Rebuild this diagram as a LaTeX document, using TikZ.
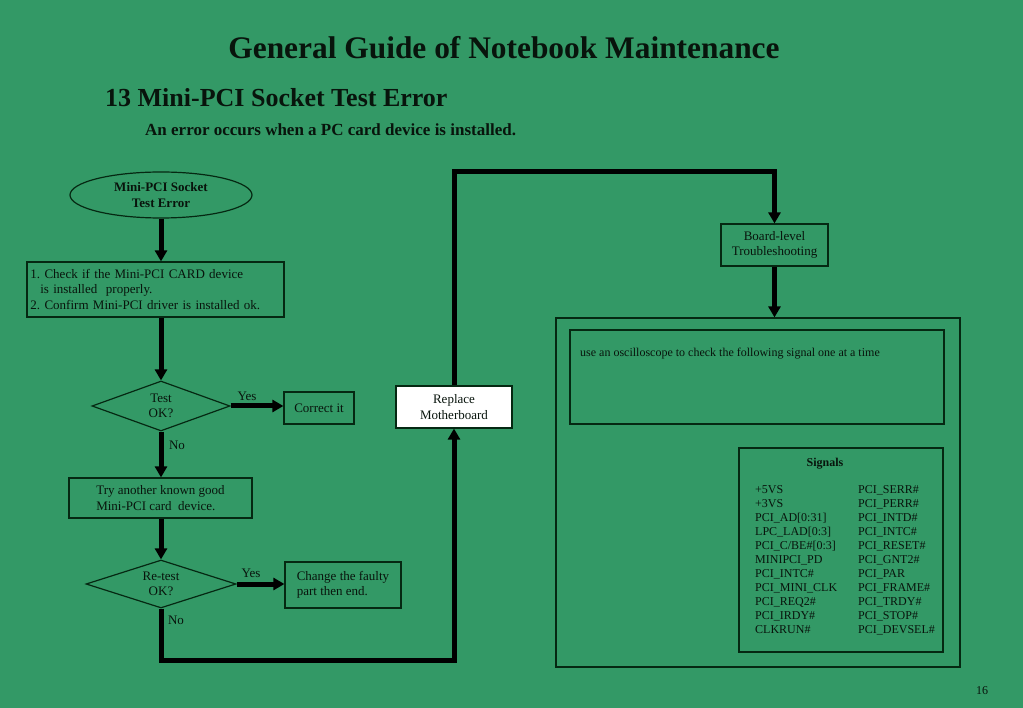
\documentclass[tikz,border=0pt]{standalone}
\usepackage{fontspec}
\setmainfont{Liberation Serif}
\usetikzlibrary{arrows.meta,shapes.geometric}
\definecolor{bg}{RGB}{51,153,102}
\definecolor{ink}{RGB}{8,20,12}
\definecolor{edge}{RGB}{5,40,18}
\frenchspacing
\begin{document}
\begin{tikzpicture}[x=1pt,y=-1pt,
  every node/.style={text=ink},
  box/.style={draw=edge,line width=1.2pt,rectangle,inner sep=0pt,font=\fontsize{13}{15.6}\selectfont},
  dia/.style={draw=edge,line width=1.2pt,diamond,inner sep=0pt,aspect=2.8,align=center,font=\fontsize{13}{15.6}\selectfont},
  arr/.style={line width=5pt,draw=black,-{Triangle[length=11pt,width=12pt]}},
  lbl/.style={font=\fontsize{13}{15.6}\selectfont,inner sep=0pt},
  sig/.style={font=\fontsize{12}{14}\selectfont,align=left,inner sep=0pt,anchor=north west}]
\fill[bg] (0,0) rectangle (1023,708);
\useasboundingbox (0,0) rectangle (1023,708);
% titles
\node[font=\fontsize{31.4}{36}\selectfont\bfseries] (title) at (504,48) {General Guide of Notebook Maintenance};
\node[font=\fontsize{26}{30}\selectfont\bfseries,anchor=west,inner sep=0pt] (sub) at (105,98) {13 Mini-PCI Socket Test Error};
\node[font=\fontsize{17}{20}\selectfont\bfseries,anchor=west,inner sep=0pt] (desc) at (145,130) {An error occurs when a PC card device is installed.};
% left flow
\node[draw=edge,line width=1.2pt,ellipse,minimum width=182pt,minimum height=46pt,inner sep=0pt,align=center,font=\fontsize{13}{15.6}\selectfont\bfseries] (start) at (161,195) {Mini-PCI Socket\\Test Error};
\node[box,minimum width=257pt,minimum height=55pt,text width=250pt,align=left] (chk) at (155.5,289.5) {1. Check if the Mini-PCI CARD device\\\hspace*{0.75em}is installed\ \ properly.\\2. Confirm Mini-PCI driver is installed ok.};
\node[dia,minimum width=138pt,minimum height=50pt] (d1) at (161,406) {Test\\OK?};
\node[box,minimum width=70pt,minimum height=32pt] (corr) at (319,408) {Correct it};
\node[box,minimum width=183pt,minimum height=40pt,align=left] (try) at (160.5,498) {Try another known good\\Mini-PCI card\ \ device.};
\node[dia,minimum width=150pt,minimum height=48pt] (d2) at (161,584) {Re-test\\OK?};
\node[box,minimum width=116pt,minimum height=46pt,align=left] (chg) at (343,585) {Change the faulty\\part then end.};
\node[box,fill=white,minimum width=116pt,minimum height=42pt,align=center] (rep) at (454,407) {Replace\\Motherboard};
\node[box,minimum width=107pt,minimum height=42pt,align=center] (brd) at (774.5,245) {Board-level\\Troubleshooting};
% right panel
\node[box,minimum width=404pt,minimum height=349pt] (big) at (758,492.5) {};
\node[box,minimum width=374pt,minimum height=94pt] (inner) at (757,377) {};
\node[lbl,anchor=west,font=\fontsize{12}{14}\selectfont] (osc) at (580,354) {use an oscilloscope to check the following signal one at a time};
\node[box,minimum width=204pt,minimum height=204pt] (sigbox) at (841,550) {};
\node[lbl,font=\fontsize{12}{14}\selectfont\bfseries] (sigt) at (825,464) {Signals};
\node[sig] (colA) at (755,485) {+5VS\\+3VS\\PCI\_AD[0:31]\\LPC\_LAD[0:3]\\PCI\_C/BE\#[0:3]\\MINIPCI\_PD\\PCI\_INTC\#\\PCI\_MINI\_CLK\\PCI\_REQ2\#\\PCI\_IRDY\#\\CLKRUN\#};
\node[sig] (colB) at (858,485) {PCI\_SERR\#\\PCI\_PERR\#\\PCI\_INTD\#\\PCI\_INTC\#\\PCI\_RESET\#\\PCI\_GNT2\#\\PCI\_PAR\\PCI\_FRAME\#\\PCI\_TRDY\#\\PCI\_STOP\#\\PCI\_DEVSEL\#};
\node[font=\fontsize{12}{14}\selectfont,inner sep=0pt] (pg) at (982,691) {16};
% labels
\node[lbl] (y1) at (247,396) {Yes};
\node[lbl] (n1) at (177,445) {No};
\node[lbl] (y2) at (251,573) {Yes};
\node[lbl] (n2) at (176,620) {No};
% connectors
\draw[arr] (start.south) -- (chk.north -| start.south);
\draw[arr] (chk.south -| d1.north) -- (d1.north);
\draw[arr] (d1.east) -- (d1.east -| corr.west);
\draw[arr] (d1.south) -- (try.north -| d1.south);
\draw[arr] (try.south -| d2.north) -- (d2.north);
\draw[arr] (d2.east) -- (d2.east -| chg.west);
\coordinate (c1) at (161,660);
\coordinate (c2) at (454,172);
\draw[arr] (d2.south) -- (c1) -| (rep.south);
\draw[arr] (rep.north) -- (c2) -| (brd.north);
\draw[arr] (brd.south) -- (big.north -| brd.south);
\end{tikzpicture}
\end{document}
